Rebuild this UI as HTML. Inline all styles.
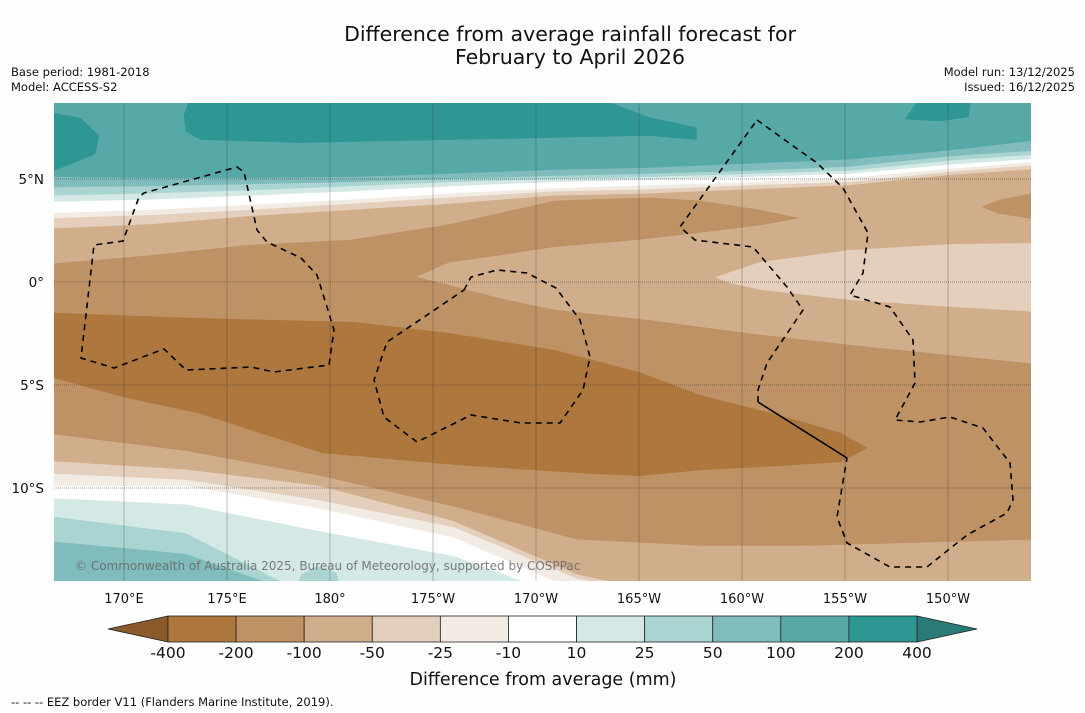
<!DOCTYPE html>
<html><head><meta charset="utf-8">
<style>
html,body{margin:0;padding:0;background:#fff;}
svg{display:block;font-family:"DejaVu Sans","Liberation Sans",sans-serif;}
</style></head>
<body>
<svg id="chart" width="1085" height="713" viewBox="0 0 1085 713" xmlns="http://www.w3.org/2000/svg">
<defs><clipPath id="mapclip"><rect x="54" y="103" width="977" height="478"/></clipPath></defs>
<rect x="0" y="0" width="1085" height="713" fill="#fefefe"/>
<text x="570" y="41" font-size="20.5" text-anchor="middle" fill="#111">Difference from average rainfall forecast for</text>
<text x="570" y="64" font-size="20.5" text-anchor="middle" fill="#111">February to April 2026</text>
<text x="11" y="76" font-size="11.5" fill="#111">Base period: 1981-2018</text>
<text x="11" y="91" font-size="11.5" fill="#111">Model: ACCESS-S2</text>
<text x="1075" y="76" font-size="11.5" text-anchor="end" fill="#111">Model run: 13/12/2025</text>
<text x="1075" y="91" font-size="11.5" text-anchor="end" fill="#111">Issued: 16/12/2025</text>
<g id="map" clip-path="url(#mapclip)"></g>
<g id="grid"></g>
<g id="eez" clip-path="url(#mapclip)">
<path d="M237,167 L244,172 L257,230 L267,242 L301,258 L317,275 L327,307 L334,330 L329,365 L274,372 L251,367 L186,370 L164,349 L114,368 L81,358 L94,245 L123,241 L139,197 L144,193 Z" fill="none" stroke="#000" stroke-width="1.6" stroke-dasharray="6,5"/>
<path d="M464,290 L471,277 L497,270 L527,273 L556,288 L580,320 L590,357 L583,390 L560,423 L521,423 L471,415 L417,442 L384,417 L374,380 L387,342 Z" fill="none" stroke="#000" stroke-width="1.6" stroke-dasharray="6,5"/>
<path d="M757,120 L817,163 L843,188 L868,233 L863,273 L850,295 L890,307 L913,340 L915,383 L895,420 L920,422 L950,417 L983,428 L1010,463 L1013,500 L1007,513 L967,535 L927,567 L890,567 L847,543 L837,517 L847,458" fill="none" stroke="#000" stroke-width="1.6" stroke-dasharray="6,5"/>
<path d="M847,458 L758,402" fill="none" stroke="#000" stroke-width="1.6"/>
<path d="M758,402 L758,390 L767,363 L803,310 L787,287 L753,247 L695,240 L680,227 L757,120" fill="none" stroke="#000" stroke-width="1.6" stroke-dasharray="6,5"/>
</g>
<text x="75" y="570" font-size="12" fill="#666" fill-opacity="0.85">© Commonwealth of Australia 2025, Bureau of Meteorology, supported by COSPPac</text>
<g id="axes"></g>
<g id="colorbar"></g>
<text x="543" y="685" font-size="17.5" text-anchor="middle" fill="#111">Difference from average (mm)</text>
<text x="11" y="706" font-size="11.5" fill="#111">--  --  -- EEZ border V11 (Flanders Marine Institute, 2019).</text>
</svg>
<script>
// ---- data ----
const levels = [-400,-200,-100,-50,-25,-10,10,25,50,100,200,400];
const levelColors = ["#ad773e","#bf9266","#d1ae8b","#e3cfbb","#f2ebe4","#ffffff","#d4e8e6","#a9d4d2","#80bcbb","#57a9a8","#2e9794"];
const underColor = "#8b5a2b";
const overColor = "#2a7a77";
const lonTicks = [170,175,180,185,190,195,200,205,210];
const lonTickLabels = ["170°E","175°E","180°","175°W","170°W","165°W","160°W","155°W","150°W"];
const latTicks = [5,0,-5,-10];
const latTickLabels = ["5°N","0°","5°S","10°S"];
// northern contour lines (latitude at each sample longitude)
const lonN = [166.6,171.3,176.1,181.0,185.8,190.9,195.5,200.4,205.2,210.1,214.5];
const north_m50  = [2.6,2.8,3.2,3.5,3.8,4.2,4.3,4.5,4.7,5.2,5.5];
const north_m25  = [3.1,3.25,3.5,3.8,4.1,4.4,4.5,4.7,4.85,5.35,5.7];
const north_m10  = [3.35,3.5,3.75,4.0,4.3,4.55,4.7,4.85,5.05,5.5,5.85];
const north_p10  = [3.9,4.0,4.2,4.4,4.65,4.85,4.95,5.1,5.25,5.7,6.0];
const north_p25  = [4.2,4.3,4.45,4.65,4.85,5.0,5.1,5.25,5.4,5.9,6.2];
const north_p50  = [4.6,4.65,4.75,4.85,5.0,5.15,5.25,5.4,5.6,6.1,6.4];
const north_p100 = [5.1,5.05,5.05,5.1,5.25,5.45,5.55,5.75,5.95,6.4,6.9];
// southern contour lines
const lonS = [166.6,173.0,179.5,186.0,192.0,198.0,203.0,214.5];
const south_m200 = [-7.4,-8.2,-9.4,-10.9,-12.5,-12.8,-12.8,-12.5];
const south_m50  = [-8.7,-9.1,-9.9,-11.6,-14.2,-15.5,-15.5,-15.5];
const south_m25  = [-9.3,-9.6,-10.6,-11.9,-14.4,-15.5,-15.5,-15.5];
const south_m10  = [-9.9,-9.9,-11.0,-12.4,-15.0,-15.5,-15.5,-15.5];
const south_p10  = [-10.5,-10.8,-12.1,-13.3,-15.5,-15.5,-15.5,-15.5];
const south_p25  = [-11.4,-12.2,-15.5,-15.5,-15.5,-15.5,-15.5,-15.5];
const south_p50  = [-12.6,-13.2,-15.5,-15.5,-15.5,-15.5,-15.5,-15.5];
// closed regions [lon,lat]
const regionM200 = [[166.6,0.9],[171.3,1.3],[176.1,1.8],[181,2.05],[185.8,2.8],[190.9,3.95],[195.5,4.1],[198,3.95],[200.9,3.5],[202.8,3.1],[200.9,2.75],[198,2.4],[195,2.05],[190.9,1.7],[188.3,1.3],[185.8,0.95],[184.2,0.25],[185.8,-0.15],[188.3,-0.8],[190.9,-1.35],[195.5,-1.85],[200.4,-2.5],[205.2,-3.05],[210.1,-3.55],[214.5,-4.0],[214.5,-12.5],[203,-12.8],[198,-12.8],[192,-12.5],[186,-10.9],[179.5,-9.4],[173,-8.2],[166.6,-7.4]];
const regionM200East = [[214.5,4.4],[212.5,4.0],[211.6,3.65],[212.5,3.3],[214.5,3.0]];
const regionM50East = [[198.7,0.24],[200.9,0.97],[205.2,1.55],[210.1,1.84],[214.5,1.9],[214.5,-1.46],[210.1,-1.21],[205.2,-0.87],[200.9,-0.39],[199.4,-0.05]];
const regionM400 = [[166.6,-1.5],[173.7,-1.75],[181.2,-1.94],[185.8,-2.48],[190.9,-3.3],[195,-4.37],[198,-5.49],[201.8,-6.46],[204.8,-7.33],[206.1,-8.06],[204.8,-8.74],[201.8,-8.93],[198,-9.13],[195,-9.42],[192,-9.27],[186,-8.88],[179.6,-8.3],[173.7,-6.4],[170,-5.6],[166.6,-4.66]];
const regionP200Top = [[173.2,8.9],[172.9,8.1],[173,7.3],[173.7,6.9],[178.5,6.75],[185.8,6.9],[190.9,7.0],[195.5,7.1],[197.8,6.9],[197.8,7.5],[195.5,8.0],[193.1,8.9]];
const regionP200Left = [[166.4,8.25],[167.9,7.96],[168.8,7.1],[168.6,6.2],[167.4,5.7],[166.4,5.34]];
const regionP200Right = [[207.9,7.9],[208.6,8.9],[211.1,8.9],[211,8.0],[209.6,7.8]];
const regionP25Blob = [[178.3,-15],[178.6,-14.2],[179.4,-13.8],[180.3,-14.1],[180.6,-15]];

// ---- axis functions ----
const X0=124, PXDEG=20.6, Y0=282;
const xS = lon => X0 + (lon-170)*PXDEG;
const yS = lat => Y0 - lat*PXDEG;
const NS="http://www.w3.org/2000/svg";
const map=document.getElementById('map');
function poly(pts, color, name){
  const p=document.createElementNS(NS,'polygon');
  p.setAttribute('points', pts.map(q=>xS(q[0]).toFixed(1)+','+yS(q[1]).toFixed(1)).join(' '));
  p.setAttribute('fill', color);
  
  
  map.appendChild(p);
}
function northFill(lons, lats, color, name){
  const pts = lons.map((l,i)=>[l,lats[i]]);
  pts.push([lons[lons.length-1],10],[lons[0],10]);
  poly(pts,color,name);
}
function southFill(lons, lats, color, name){
  const pts = lons.map((l,i)=>[l,lats[i]]);
  pts.push([lons[lons.length-1],-17],[lons[0],-17]);
  poly(pts,color,name);
}
const bg=document.createElementNS(NS,'rect');
bg.setAttribute('x',54);bg.setAttribute('y',103);bg.setAttribute('width',977);bg.setAttribute('height',478);
bg.setAttribute('fill',levelColors[2]);


map.appendChild(bg);
northFill(lonN,north_m50,levelColors[3],'contour-north-m50');
northFill(lonN,north_m25,levelColors[4],'contour-north-m25');
northFill(lonN,north_m10,levelColors[5],'contour-north-m10');
northFill(lonN,north_p10,levelColors[6],'contour-north-p10');
northFill(lonN,north_p25,levelColors[7],'contour-north-p25');
northFill(lonN,north_p50,levelColors[8],'contour-north-p50');
northFill(lonN,north_p100,levelColors[9],'contour-north-p100');
poly(regionP200Top,levelColors[10],'contour-p200-top');
poly(regionP200Left,levelColors[10],'contour-p200-left');
poly(regionP200Right,levelColors[10],'contour-p200-right');
poly(regionM200,levelColors[1],'contour-m200');
poly(regionM200East,levelColors[1],'contour-m200-east');
poly(regionM50East,levelColors[3],'contour-m50-east');
poly(regionM400,levelColors[0],'contour-m400');
southFill(lonS,south_m50,levelColors[3],'contour-south-m50');
southFill(lonS,south_m25,levelColors[4],'contour-south-m25');
southFill(lonS,south_m10,levelColors[5],'contour-south-m10');
southFill(lonS,south_p10,levelColors[6],'contour-south-p10');
southFill(lonS,south_p25,levelColors[7],'contour-south-p25');
southFill(lonS,south_p50,levelColors[8],'contour-south-p50');
poly(regionP25Blob,levelColors[7],'contour-p25-blob');

// grid
const grid=document.getElementById('grid');
lonTicks.forEach((l,i)=>{
  const ln=document.createElementNS(NS,'line');
  ln.setAttribute('x1',xS(l));ln.setAttribute('x2',xS(l));ln.setAttribute('y1',103);ln.setAttribute('y2',581);
  ln.setAttribute('stroke','#333');ln.setAttribute('stroke-width','0.5');ln.setAttribute('stroke-opacity','0.6');
  
  
  grid.appendChild(ln);
});
latTicks.forEach((l,i)=>{
  const ln=document.createElementNS(NS,'line');
  ln.setAttribute('x1',54);ln.setAttribute('x2',1031);ln.setAttribute('y1',yS(l));ln.setAttribute('y2',yS(l));
  ln.setAttribute('stroke','#333');ln.setAttribute('stroke-width','0.6');ln.setAttribute('stroke-dasharray','1,1');
  
  
  grid.appendChild(ln);
});
const axes=document.getElementById('axes');
lonTicks.forEach((l,i)=>{
  const t=document.createElementNS(NS,'text');
  t.setAttribute('x',xS(l));t.setAttribute('y',603);t.setAttribute('font-size','13');t.setAttribute('text-anchor','middle');t.setAttribute('fill','#111');
  t.textContent=lonTickLabels[i];
  
  
  axes.appendChild(t);
});
latTicks.forEach((l,i)=>{
  const t=document.createElementNS(NS,'text');
  t.setAttribute('x',44);t.setAttribute('y',yS(l)+5);t.setAttribute('font-size','13.5');t.setAttribute('text-anchor','end');t.setAttribute('fill','#111');
  t.textContent=latTickLabels[i];
  
  
  axes.appendChild(t);
});
// colorbar
const cb=document.getElementById('colorbar');
const CB0=168, CB1=917, CBT=616, CBB=642;
const bw=(CB1-CB0)/levelColors.length;
const cbX = i => CB0 + i*bw;
const tl=document.createElementNS(NS,'polygon');
tl.setAttribute('points',`${CB0},${CBT} 108,${(CBT+CBB)/2} ${CB0},${CBB}`);
tl.setAttribute('fill',underColor);tl.setAttribute('stroke','#222');tl.setAttribute('stroke-width','0.8');


cb.appendChild(tl);
const tr=document.createElementNS(NS,'polygon');
tr.setAttribute('points',`${CB1},${CBT} 977,${(CBT+CBB)/2} ${CB1},${CBB}`);
tr.setAttribute('fill',overColor);tr.setAttribute('stroke','#222');tr.setAttribute('stroke-width','0.8');


cb.appendChild(tr);
levelColors.forEach((c,i)=>{
  const r=document.createElementNS(NS,'rect');
  r.setAttribute('x',cbX(i));r.setAttribute('y',CBT);r.setAttribute('width',bw);r.setAttribute('height',CBB-CBT);
  r.setAttribute('fill',c);r.setAttribute('stroke','#222');r.setAttribute('stroke-width','0.8');
  
  
  cb.appendChild(r);
});
levels.forEach((v,i)=>{
  const t=document.createElementNS(NS,'text');
  t.setAttribute('x',cbX(i));t.setAttribute('y',658);t.setAttribute('font-size','15.5');t.setAttribute('text-anchor','middle');t.setAttribute('fill','#111');
  t.textContent=String(v);
  
  
  cb.appendChild(t);
});
</script>
</body></html>
